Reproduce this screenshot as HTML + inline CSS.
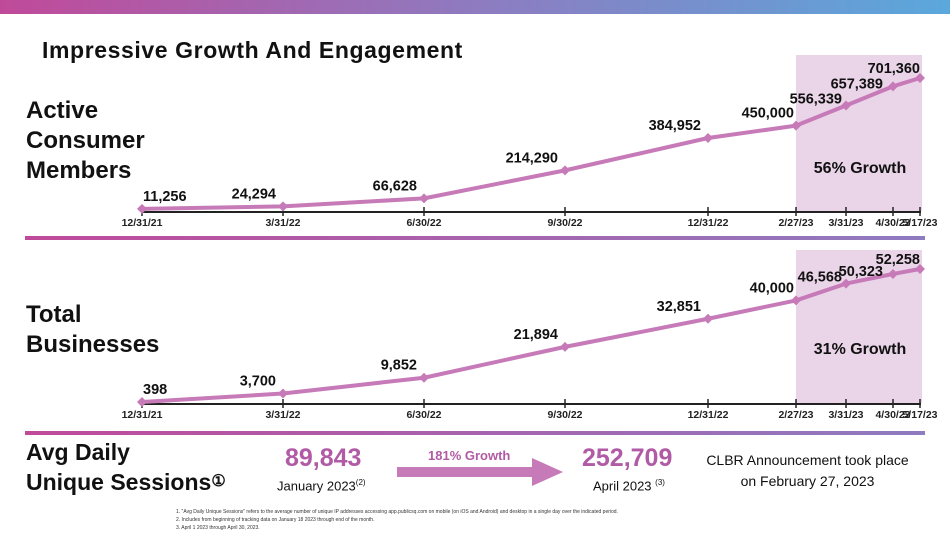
<!DOCTYPE html>
<html><head><meta charset="utf-8"><style>
body{margin:0;width:950px;height:534px;overflow:hidden;background:#fff;font-family:"Liberation Sans",sans-serif;position:relative}
.abs{position:absolute}
.h{font-weight:bold;color:#111}
</style></head><body>
<div class="abs" style="left:0;top:0;width:950px;height:14px;background:linear-gradient(90deg,#c04a9a,#8e7bc0 50%,#5aa8dc)"></div>
<div class="abs h" style="left:42px;top:37px;font-size:23px;letter-spacing:0.6px">Impressive Growth And Engagement</div>
<div class="abs h" style="left:26px;top:96px;font-size:24px;line-height:30px">Active<br>Consumer<br>Members</div>
<div class="abs h" style="left:26px;top:300px;font-size:24px;line-height:30px">Total<br>Businesses</div>
<div class="abs h" style="left:26px;top:437px;font-size:23px;line-height:30px">Avg Daily<br>Unique Sessions<span style="font-size:16px;vertical-align:top">①</span></div>
<div class="abs" style="left:25px;top:236px;width:900px;height:4px;background:linear-gradient(90deg,#c04a9a,#8e7bc0)"></div>
<div class="abs" style="left:25px;top:431px;width:900px;height:4px;background:linear-gradient(90deg,#c04a9a,#8e7bc0)"></div>
<svg class="abs" style="left:0;top:0" width="950" height="534" id="chart"></svg>
<div class="abs" style="left:285px;top:444px;font-size:25px;font-weight:bold;color:#b15aa5">89,843</div>
<div class="abs" style="left:277px;top:478px;font-size:13px;color:#111">January 2023<sup style="font-size:8px">(2)</sup></div>
<div class="abs" style="left:428px;top:448px;font-size:13px;font-weight:bold;color:#b15aa5">181% Growth</div>
<svg class="abs" style="left:397px;top:458px" width="170" height="28"><polygon points="0,9 135,9 135,0 166,14 135,28 135,19 0,19" fill="#c77ab8"/></svg>
<div class="abs" style="left:582px;top:444px;font-size:25px;font-weight:bold;color:#b15aa5">252,709</div>
<div class="abs" style="left:593px;top:478px;font-size:13px;color:#111">April 2023 <sup style="font-size:8px">(3)</sup></div>
<div class="abs" style="left:705px;top:450px;width:205px;text-align:center;font-size:14px;line-height:21px;color:#111">CLBR Announcement took place on February 27, 2023</div>
<div class="abs" style="left:176px;top:508px;font-size:5px;line-height:8px;color:#333">1. "Avg Daily Unique Sessions" refers to the average number of unique IP addresses accessing app.publicsq.com on mobile (on iOS and Android) and desktop in a single day over the indicated period.<br>2. Includes from beginning of tracking data on January 18 2023 through end of the month.<br>3. April 1 2023 through April 30, 2023.</div>
<script>
const tickLabels=["12/31/21","3/31/22","6/30/22","9/30/22","12/31/22","2/27/23","3/31/23","4/30/23","5/17/23"];
const members=[11256,24294,66628,214290,384952,450000,556339,657389,701360];
const businesses=[398,3700,9852,21894,32851,40000,46568,50323,52258];
const svg=document.getElementById('chart');const NS='http://www.w3.org/2000/svg';
function mk(t,a){const e=document.createElementNS(NS,t);for(const k in a)e.setAttribute(k,a[k]);svg.appendChild(e);return e;}
const xPos=[142,283,424,565,708,796,846,893,920];
function x(i){return xPos[i];}
function draw(vals,max,y0,h,top,growth,gy,name){
  const y=v=>y0-v/max*h;
  const r=mk('rect',{x:796,y:top,width:126,height:y0-top,fill:'#ead5e8'});
  
  const gt=mk('text',{x:860,y:gy,'text-anchor':'middle','font-size':16,'font-weight':'bold',fill:'#111'});gt.textContent=growth;
  
  const ax=mk('line',{x1:142,x2:921,y1:y0+1,y2:y0+1,stroke:'#222','stroke-width':2});
  
  tickLabels.forEach((t,i)=>{
    const tk=mk('line',{x1:x(i),x2:x(i),y1:y0-4,y2:y0+5,stroke:'#222','stroke-width':1.5});
    
    const tl=mk('text',{x:x(i),y:y0+15,'text-anchor':'middle','font-size':10.5,'font-weight':'bold',fill:'#222'});tl.textContent=t;
    
  });
  const pts=vals.map((v,i)=>x(i)+','+y(v)).join(' ');
  const pl=mk('polyline',{points:pts,fill:'none',stroke:'#c77ab8','stroke-width':4,'stroke-linejoin':'round'});
  
  vals.forEach((v,i)=>{
    const cx=x(i),cy=y(v);
    const d=mk('polygon',{points:`${cx},${cy-5} ${cx+5},${cy} ${cx},${cy+5} ${cx-5},${cy}`,fill:'#c77ab8'});
    
    const anchor=i==0?'start':'end';
    const dx=i==0?1:(i==8?0:(i<5?-7:(i==5?-2:(i==6?-4:-10))));
    const dy=i==6?-2:(i==7?2:(i==8?-5:-8));
    const l=mk('text',{x:cx+dx,y:cy+dy,'text-anchor':anchor,'font-size':14.5,'font-weight':'bold',fill:'#111'});
    l.textContent=v.toLocaleString('en-US');
    
  });
}
draw(members,701360,211,133,55,'56% Growth',173,'members');
draw(businesses,52258,403,134,250,'31% Growth',354,'businesses');
</script>
</body></html>
